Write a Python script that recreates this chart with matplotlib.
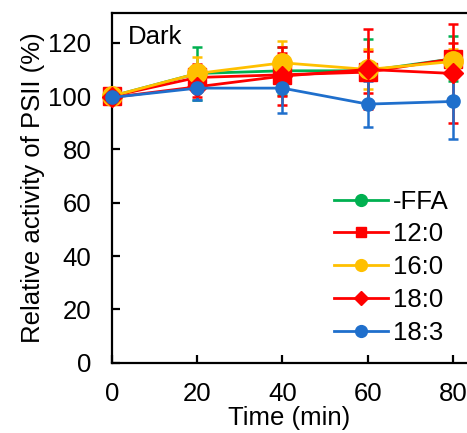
import matplotlib
matplotlib.use("Agg")
import matplotlib.pyplot as plt

plt.rcParams["font.family"] = ["Liberation Sans", "DejaVu Sans"]

TIME = [0, 20, 40, 60, 80]
LABELS = ["-FFA", "12:0", "16:0", "18:0", "18:3"]
FFA = [100, 108.5, 109.5, 109.5, 114]
FFA_ERR = [0, 10, 9, 12, 8.5]
C12 = [100, 107, 108, 109, 114]
C12_ERR = [0, 5, 8, 8, 6]
C16 = [100, 108.5, 112.5, 110, 113]
C16_ERR = [0, 6, 8, 7.5, 4.5]
C18 = [99.5, 103.5, 107.5, 110, 108.5]
C18_ERR = [0, 4, 11, 15, 18.5]
C183 = [99.5, 103, 103, 97, 98]
C183_ERR = [0, 4.5, 9.5, 8.5, 14]

# (values, errors, colour, marker, plot size, legend size)
SERIES = [
        (FFA, FFA_ERR, "#00b050", "o", 9.5, 8.5),
        (C12, C12_ERR, "#ff0000", "s", 13, 7.5),
        (C16, C16_ERR, "#ffc000", "o", 14, 8.5),
        (C18, C18_ERR, "#ff0000", "D", 10, 7),
        (C183, C183_ERR, "#1f6fcc", "o", 9.5, 8.5),
]
FS = 18.5

fig = plt.figure(figsize=(4.67, 4.33), dpi=100)
ax = fig.add_axes([0.2398, 0.1624, 0.7602, 0.8083])

handles = []
for (vals, err, color, marker, ms, _), label in zip(SERIES, LABELS):
        ax.errorbar(TIME, vals, yerr=err, color=color, lw=2, capsize=3.8,
                    capthick=1.8, elinewidth=1.8, fmt="none")
        (line,) = ax.plot(TIME, vals, color=color, lw=2, marker=marker,
                          ms=ms, label=label, clip_on=False, zorder=3)
        handles.append(line)

ax.set_xlim(0, 83.3)
ax.set_ylim(0, 131.3)
ax.set_xticks(TIME)
ax.set_yticks(range(0, 121, 20))
ax.tick_params(axis="both", direction="in", length=6, width=1.6, labelsize=FS)
ax.tick_params(axis="y", pad=15)
ax.tick_params(axis="x", pad=14)
for side in ("left", "bottom", "top"):
        ax.spines[side].set_linewidth(1.6)
ax.spines["right"].set_visible(False)

ax.set_xlabel("Time (min)", fontsize=FS, labelpad=0)
ax.set_ylabel("Relative activity of PSII (%)", fontsize=FS, labelpad=2)
ax.text(0.045, 0.965, "Dark", transform=ax.transAxes, fontsize=FS,
        ha="left", va="top")

leg = ax.legend(handles=handles, loc="lower right", bbox_to_anchor=(1.0, 0.0),
                frameon=False, fontsize=FS, handlelength=2.1, handletextpad=0.2,
                labelspacing=0.34, borderaxespad=0.3)
for h, s in zip(leg.legend_handles, SERIES):
        h.set_markersize(s[5])

fig.savefig("out.png", dpi=100)
